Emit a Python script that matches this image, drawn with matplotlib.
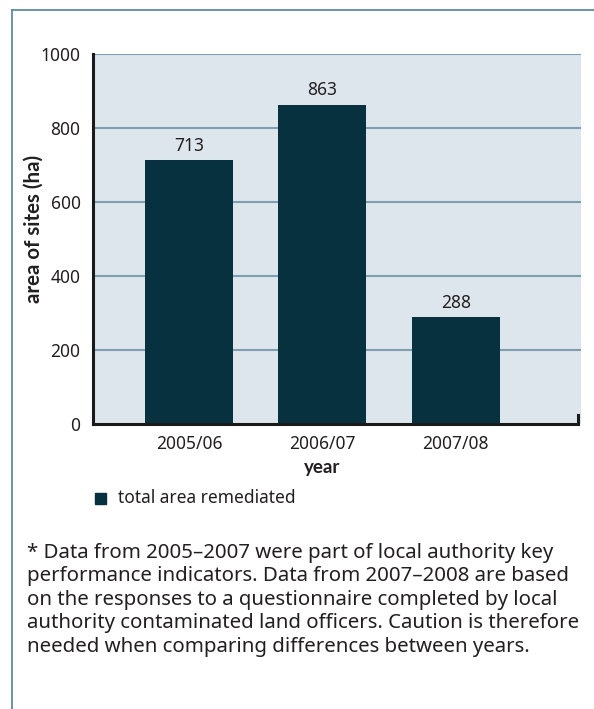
import matplotlib
matplotlib.use("Agg")
import matplotlib.pyplot as plt
from matplotlib.lines import Line2D
from matplotlib.patches import Rectangle

categories = ["2005/06", "2006/07", "2007/08"]
values = [713, 863, 288]
yticks = [0, 200, 400, 600, 800, 1000]
series_name = "total area remediated"
ylabel = "area of sites (ha)"
xlabel = "year"
footnote = ("* Data from 2005\u20132007 were part of local authority key\n"
            "performance indicators. Data from 2007\u20132008 are based\n"
            "on the responses to a questionnaire completed by local\n"
            "authority contaminated land officers. Caution is therefore\n"
            "needed when comparing differences between years.")

W, H = 594, 709
BAR = "#08313f"
BG = "#dde6ec"
GRID = "#7f9eb0"
FRAME = "#5f8aa0"
TXT = "#231f20"
FONT = "Noto Sans"
BOLD = ["Lato", "DejaVu Sans"]

plt.rcParams["font.family"] = [FONT, "DejaVu Sans"]

fig = plt.figure(figsize=(W / 100, H / 100), dpi=100)

# outer frame (top and left lines)
fig.add_artist(Line2D([12 / W, 1], [1 - 10 / H, 1 - 10 / H], transform=fig.transFigure,
                      color=FRAME, lw=1.3))
fig.add_artist(Line2D([12 / W, 12 / W], [1 - 10 / H, 0], transform=fig.transFigure,
                      color=FRAME, lw=1.3))

ax = fig.add_axes([93 / W, 1 - 424 / H, 488 / W, 370 / H])
ax.set_facecolor(BG)
x = list(range(len(categories)))
ax.bar(x, values, width=0.66, color=BAR, zorder=3)
ax.set_xlim(-0.72, 2.94)
ax.set_ylim(0, 1000)
ax.set_yticks(yticks)
ax.set_yticklabels([str(t) for t in yticks], fontsize=12.5, color=TXT)
ax.set_xticks(x)
ax.set_xticklabels(categories, fontsize=12.5, color=TXT)
ax.tick_params(axis="both", length=0)
ax.tick_params(axis="y", pad=9)
ax.tick_params(axis="x", pad=8)
for t in yticks[1:]:
    ax.axhline(t, color=GRID, lw=1.5, zorder=2)

for s in ["top", "right", "bottom"]:
    ax.spines[s].set_visible(False)
ax.spines["left"].set_color("#1a1a1a")
ax.spines["left"].set_linewidth(2.2)
ax.spines["left"].set_zorder(4)
ax.plot([0, 0.994, 0.994], [0, 0, 0.025], transform=ax.transAxes, color="#1a1a1a",
        lw=2.2, clip_on=False, zorder=5, solid_joinstyle="miter")

for xi, v in zip(x, values):
    ax.annotate(str(v), (xi, v), xytext=(0, 4), textcoords="offset points",
                ha="center", va="bottom", fontsize=12.5, color=TXT)

fig.text(34 / W, 1 - 229 / H, ylabel, rotation=90, ha="center", va="center",
         fontsize=14.8, fontweight="bold", color=TXT, family=BOLD)
ax.text(1, -0.118, xlabel, transform=ax.get_xaxis_transform(), ha="center", va="center",
        fontsize=13.5, fontweight="bold", color=TXT, family=BOLD)

# legend
fig.add_artist(Rectangle((95 / W, 1 - 504 / H), 11 / W, 11 / H, transform=fig.transFigure,
                         color=BAR))
fig.text(118 / W, 1 - 498 / H, series_name, ha="left", va="center", fontsize=12.5, color=TXT)

fig.text(27 / W, 1 - 543 / H, footnote, ha="left", va="top", fontsize=14.7, color=TXT,
         linespacing=1.23)

fig.savefig("out.png", dpi=100)
